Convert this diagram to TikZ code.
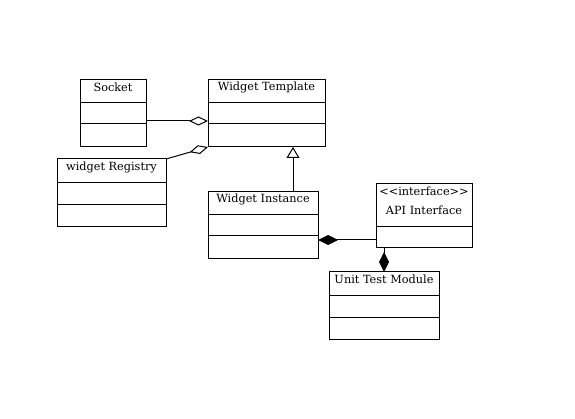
\documentclass[tikz,border=0pt]{standalone}
\usepackage{fontspec}
\setmainfont{DejaVu Serif}
\usetikzlibrary{arrows.meta,calc}
\begin{document}
\begin{tikzpicture}[x=1pt,y=-1pt,
  cls/.style={draw, line width=1pt, anchor=north west, inner sep=0pt, outer sep=0pt},
  ttl/.style={font=\fontsize{11.3}{12}\selectfont, inner sep=0pt},
  conn/.style={line width=1pt},
  agg/.style={conn,-{Diamond[open,length=19pt,width=9pt]}},
  comp/.style={conn,-{Diamond[length=20pt,width=10pt]}},
  inh/.style={conn,-{Triangle[open,length=11pt,width=13pt]}}]
\fill[white] (0,0) rectangle (575,419);
\useasboundingbox (0,0) rectangle (575,419);

% classes
\node[cls, minimum width=66pt, minimum height=67pt] (socket) at (80,80) {};
\node[cls, minimum width=117pt, minimum height=67pt] (template) at (208,80) {};
\node[cls, minimum width=109pt, minimum height=68pt] (registry) at (57,159) {};
\node[cls, minimum width=110pt, minimum height=67pt] (instance) at (208,192) {};
\node[cls, minimum width=96pt, minimum height=64pt] (api) at (376,184) {};
\node[cls, minimum width=110pt, minimum height=67pt] (unit) at (329,272) {};

% compartments
\foreach \n/\a/\b in {socket/23/44, template/23/44, registry/24/46, instance/23/44, unit/24/45}{
  \draw[conn] ($(\n.north west)+(0,\a)$) -- ($(\n.north east)+(0,\a)$);
  \draw[conn] ($(\n.north west)+(0,\b)$) -- ($(\n.north east)+(0,\b)$);
}
\draw[conn] ($(api.north west)+(0,43)$) -- ($(api.north east)+(0,43)$);

% titles
\node[ttl] (socketT) at ($(socket.north)+(0,7.5)$) {Socket};
\node[ttl] (templateT) at ($(template.north)+(0,7.5)$) {Widget Template};
\node[ttl] (registryT) at ($(registry.north)+(0,8)$) {widget Registry};
\node[ttl] (instanceT) at ($(instance.north)+(0,7.5)$) {Widget Instance};
\node[ttl] (apiS) at ($(api.north)+(0,7.5)$) {{<}{<}interface{>}{>}};
\node[ttl] (apiT) at ($(api.north)+(0,26)$) {API Interface};
\node[ttl] (unitT) at ($(unit.north)+(0,7.5)$) {Unit Test Module};

% connectors
\coordinate (sockR) at ($(socket.north east)+(0,41)$);
\draw[agg] (sockR) -- (template.west |- sockR);
\draw[agg] (registry.north east) -- (template.south west);
\coordinate (instT) at ($(instance.north)+(30,0)$);
\draw[inh] (instT) -- (template.south -| instT);
\coordinate (apiL) at ($(api.north west)+(0,56)$);
\draw[comp] (apiL) -- (instance.east |- apiL);
\coordinate (apiB) at ($(api.south west)+(8,0)$);
\draw[comp] (apiB) -- (unit.north -| apiB);
\end{tikzpicture}
\end{document}
